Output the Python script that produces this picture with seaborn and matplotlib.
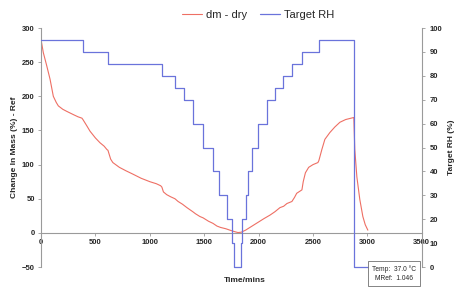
import matplotlib
matplotlib.use("Agg")
import matplotlib.pyplot as plt
import seaborn as sns
import pandas as pd

# dm - dry (left axis)
mass_time = [0, 10, 21, 52, 83, 113, 140, 159, 200, 236, 300, 340, 376, 385, 420, 450, 500,
             542, 580, 606, 615, 640, 660, 720, 780, 845, 920, 1000, 1060, 1100, 1111, 1125,
             1155, 1190, 1231, 1260, 1300, 1341, 1395, 1420, 1460, 1490, 1540, 1580, 1617,
             1650, 1700, 1736, 1775, 1810, 1840, 1880, 1940, 2000, 2050, 2104, 2150, 2196,
             2230, 2260, 2306, 2330, 2350, 2398, 2410, 2430, 2460, 2500, 2545, 2554, 2581,
             2609, 2655, 2700, 2747, 2800, 2875, 2884, 2903, 2930, 2958, 2980, 3004]
mass_change = [283, 274, 264, 245, 225, 200, 191, 186, 181, 178, 173, 170, 168, 166, 157, 149,
               139, 132, 127, 122, 121, 108, 103, 96, 91, 86, 80, 75, 72, 69, 67, 60,
               56, 53, 50, 46, 42, 37, 31, 28, 24, 22, 17, 14, 10,
               8, 6, 4, 2, 0.5, 1, 4, 10, 16, 21, 26, 31, 37,
               39, 43, 46, 52, 58, 63, 75, 88, 96, 100, 103, 106, 122,
               137, 147, 155, 162, 166, 169, 122, 82, 49, 24, 12, 4]

# Target RH program (right axis), step starts
rh_time = [0, 385, 615, 1110, 1230, 1315, 1395, 1490, 1580, 1640, 1710, 1755, 1775,
           1837, 1846, 1880, 1905, 1940, 1993, 2076, 2150, 2223, 2306, 2398, 2554,
           2875, 3010]
rh_value = [95, 90, 85, 80, 75, 70, 60, 50, 40, 30, 20, 10, 0,
            10, 20, 30, 40, 50, 60, 70, 75, 80, 85, 90, 95,
            0, 0]

red = "#ee6f64"
blue = "#6a73db"

mass_df = pd.DataFrame({"Time": mass_time, "Mass": mass_change})
rh_df = pd.DataFrame({"Time": rh_time, "RH": rh_value})

sns.set_style("white")
plt.rcParams["font.family"] = ["Liberation Sans", "DejaVu Sans"]

fig = plt.figure(figsize=(4.61, 2.89), dpi=100)
ax = fig.add_axes([0.089, 0.076, 0.826, 0.827])
ax2 = ax.twinx()

sns.lineplot(data=mass_df, x="Time", y="Mass", ax=ax, color=red, linewidth=0.8,
             label="dm - dry", legend=False)
sns.lineplot(data=rh_df, x="Time", y="RH", ax=ax2, color=blue, linewidth=0.9,
             drawstyle="steps-post", label="Target RH", legend=False, clip_on=False)

ax.set_xlim(0, 3500)
ax.set_ylim(-50, 300)
ax2.set_ylim(0, 100)
ax.set_xticks(range(0, 3501, 500))
ax.set_yticks(range(-50, 301, 50))
ax2.set_yticks(range(0, 101, 10))

# spines
ax.spines["top"].set_visible(False)
ax2.spines["top"].set_visible(False)
ax.spines["bottom"].set_position(("data", 0))
ax2.spines["bottom"].set_visible(False)
ax2.spines["left"].set_visible(False)
ax.spines["right"].set_visible(False)
for sp in [ax.spines["left"], ax.spines["bottom"], ax2.spines["right"]]:
    sp.set_color("#9a9a9a")
    sp.set_linewidth(0.8)

ax.tick_params(axis="both", labelsize=5.5, length=2.5, width=0.6, color="#9a9a9a",
               direction="out", left=True, bottom=True, pad=2)
ax2.tick_params(axis="y", labelsize=5.5, length=2.5, width=0.6, color="#9a9a9a",
                direction="out", right=True, pad=3)
for lab in ax.get_xticklabels() + ax.get_yticklabels() + ax2.get_yticklabels():
    lab.set_fontweight("bold")

ax.set_xlabel("Time/mins", fontsize=6, fontweight="bold")
ax.xaxis.set_label_coords(0.535, -0.04)
ax.set_ylabel("Change In Mass (%) - Ref", fontsize=6, fontweight="bold", labelpad=3)
ax2.set_ylabel("Target RH (%)", fontsize=6, fontweight="bold", labelpad=4)

# legend above the plot
h1, l1 = ax.get_legend_handles_labels()
h2, l2 = ax2.get_legend_handles_labels()
fig.legend(h1 + h2, l1 + l2, loc="upper center", bbox_to_anchor=(0.56, 1.0), ncol=2,
           frameon=False, fontsize=8, handlelength=1.8, handletextpad=0.3,
           columnspacing=1.2)

# info box
ax2.text(0.926, -0.027, "Temp:  37.0 \u00b0C\nMRef:  1.046", transform=ax2.transAxes,
         fontsize=4.8, ha="center", va="center", linespacing=1.5,
         bbox=dict(boxstyle="square,pad=0.6", fc="white", ec="#707070", lw=0.6),
         clip_on=False, zorder=5)

fig.savefig("out.png", dpi=100)
